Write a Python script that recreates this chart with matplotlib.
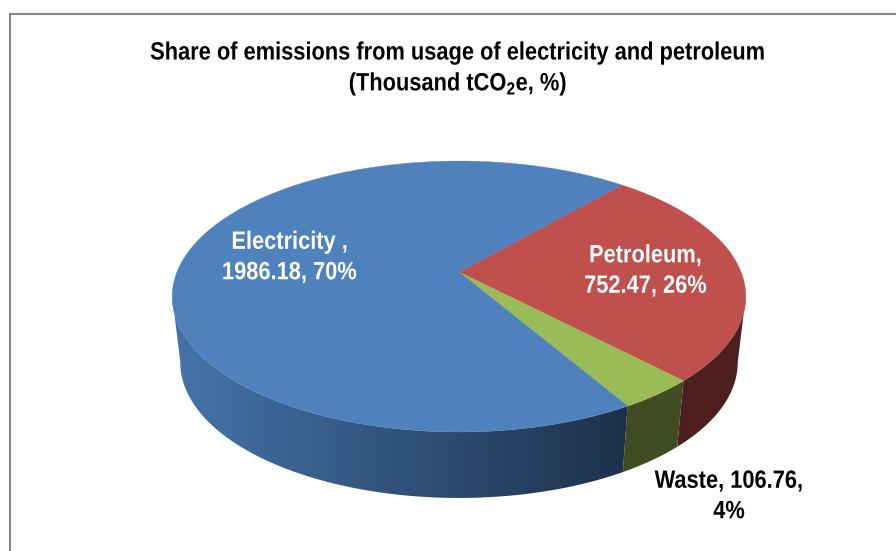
import numpy as np
import matplotlib
matplotlib.use("Agg")
import matplotlib.pyplot as plt
import matplotlib.patheffects as pe
from matplotlib.patches import Polygon
from matplotlib.colors import to_rgb
from matplotlib.transforms import Affine2D

categories = ["Electricity", "Petroleum", "Waste"]
values = [1986.18, 752.47, 106.76]
shares = ["70%", "26%", "4%"]
top_colors = ["#4F81BD", "#C0504D", "#9BBB59"]

FONT = "Liberation Sans"
SIZE = 18
plt.rcParams["font.family"] = FONT
plt.rcParams["mathtext.fontset"] = "custom"
plt.rcParams["mathtext.rm"] = FONT + ":bold"
plt.rcParams["mathtext.bf"] = FONT + ":bold"

fig = plt.figure(figsize=(8.96, 5.51), dpi=100)
ax = fig.add_axes([0, 0, 1, 1])
ax.set_xlim(0, 896)
ax.set_ylim(551, 0)
ax.axis("off")

# Pie disc geometry: a perspective tilt of the unit circle
CX, CY = 459.0, 272.0
R_X, R_Y, TILT = 282.0, 131.0, 0.181
WALL = 66.0
BASE_SCALE = 0.972
START_DEG = 49.0


def rim(theta_deg, base=False):
    t = np.radians(theta_deg)
    u, v = np.cos(t), np.sin(t)
    d = 1 + TILT * v
    x, y = R_X * u / d, -R_Y * v / d
    if base:
        return np.column_stack([CX + x * BASE_SCALE, CY + y + WALL])
    return np.column_stack([CX + x, CY + y])


# Sweep clockwise from the start angle, one span per category
sweeps = np.array(values) / np.sum(values) * 360
order = [1, 2, 0]  # clockwise order: petroleum, waste, electricity
spans = {}
a = START_DEG
for i in order:
    spans[i] = (a, a - sweeps[i])
    a -= sweeps[i]

# Angles where the rim turns back: the wall is only visible between them
probe = np.linspace(0, -360, 3601)
probe_x = rim(probe)[:, 0]
front_hi, front_lo = probe[np.argmax(probe_x)], probe[np.argmin(probe_x)]

wall_ramps = {
    0: ("#4675AC", "#1C3049", 175.0, 622.0),
    1: ("#4C1F1E", "#502020", 678.0, 746.0),
    2: ("#404B22", "#424D23", 622.0, 678.0),
}

# Side wall: a horizontal shading ramp clipped to each slice's outline
for i in order:
    hi, lo = min(spans[i][0], front_hi), max(spans[i][1], front_lo)
    th = np.linspace(hi, lo, int(abs(hi - lo) * 3) + 2)
    outline = np.vstack([rim(th), rim(th, base=True)[::-1]])
    left, right, x0, x1 = wall_ramps[i]
    xs = np.linspace(x0, x1, 256)
    f = ((xs - x0) / (x1 - x0))[None, :, None]
    ramp = np.array(to_rgb(left))[None, None, :] * (1 - f) + np.array(to_rgb(right))[None, None, :] * f
    im = ax.imshow(ramp, extent=(x0, x1, 520, 250), aspect="auto", zorder=2,
                   interpolation="bilinear")
    clip = Polygon(outline, closed=True, transform=ax.transData)
    im.set_clip_path(clip)
    # Pad the image outward so slice edges are fully covered
    im.set_extent((x0 - 12, x1 + 12, 520, 250))
ax.set_xlim(0, 896)
ax.set_ylim(551, 0)

# Top faces
for i in order:
    hi, lo = spans[i]
    th = np.linspace(hi, lo, int(abs(hi - lo) * 3) + 2)
    pts = np.vstack([[CX, CY], rim(th)])
    ax.add_patch(Polygon(pts, closed=True, facecolor=top_colors[i],
                         edgecolor=top_colors[i], linewidth=0.3, zorder=3))

# Chart frame: only top and left edges fall inside the canvas
ax.plot([896, 10, 10], [14, 14, 551], color="#868686", lw=1.5, zorder=1,
        solid_joinstyle="miter")


class Condense(pe.AbstractPathEffect):
    """Narrow glyph outlines horizontally about a fixed x position."""

    def __init__(self, x_px, factor=0.873):
        super().__init__()
        self.x_px, self.factor = x_px, factor

    def draw_path(self, renderer, gc, tpath, affine, rgbFace=None):
        squeeze = Affine2D().translate(-self.x_px, 0).scale(self.factor, 1).translate(self.x_px, 0)
        renderer.draw_path(gc, tpath, affine + squeeze, rgbFace)


def label(x, y, s, color, z=5):
    ax.text(x, y, s, ha="center", va="center", fontsize=SIZE, fontweight="bold",
            color=color, linespacing=1.34, zorder=z,
            path_effects=[Condense(ax.transData.transform((x, y))[0])])


label(458, 52.5, "Share of emissions from usage of electricity and petroleum", "black")
label(458, 83.5, r"(Thousand tCO$_{\mathbf{2}}$e, %)", "black")
label(289.5, 257, f"{categories[0]} ,\n{values[0]:.2f}, {shares[0]}", "white")
label(645.5, 270.5, f"{categories[1]},\n{values[1]:.2f}, {shares[1]}", "white")
label(729, 496, f"{categories[2]}, {values[2]:.2f},\n{shares[2]}", "black")

fig.savefig("out.png", dpi=100, facecolor="white")
